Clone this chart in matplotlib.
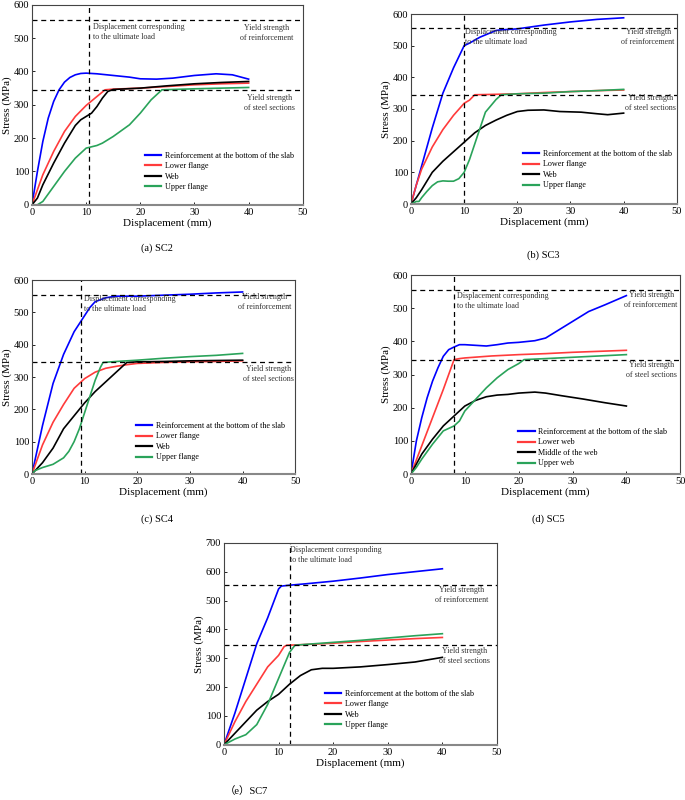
import matplotlib.pyplot as plt

plt.rcParams['font.family'] = ['Liberation Serif', 'Noto Sans CJK SC']

# ---- data (displacement mm, stress MPa) ----
# (a) SC2
a_blue_x = [0, 1, 2, 3, 4, 5, 6, 7, 8, 9, 10, 12, 15, 18, 20, 23, 26, 30, 34, 37, 40]
a_blue_y = [0, 100, 190, 260, 310, 345, 368, 382, 390, 394, 395, 393, 388, 383, 378, 377, 380, 388, 393, 390, 377]
a_red_x = [0, 2, 4, 6, 8, 10, 12, 13.5, 15, 20, 25, 30, 35, 40]
a_red_y = [0, 90, 160, 220, 265, 298, 325, 345, 347, 350, 355, 360, 363, 365]
a_black_x = [0, 1, 2, 4, 6, 8, 9, 10, 11, 12, 13, 14, 15, 20, 25, 30, 35, 40]
a_black_y = [0, 20, 60, 125, 185, 238, 255, 265, 275, 295, 320, 340, 346, 350, 357, 363, 367, 370]
a_green_x = [0, 1, 2, 4, 6, 8, 10, 12, 13, 15, 18, 20, 22, 24, 30, 35, 40]
a_green_y = [0, 0, 10, 55, 100, 140, 170, 178, 185, 205, 240, 275, 315, 345, 348, 350, 352]

# (b) SC3
b_blue_x = [0, 2, 4, 6, 8, 10, 11, 13, 16, 17, 20, 25, 30, 35, 40]
b_blue_y = [0, 120, 240, 350, 430, 500, 508, 527, 548, 550, 553, 565, 575, 583, 588]
b_red_x = [0, 1, 2, 4, 6, 8, 10, 11, 12, 15, 20, 25, 30, 35, 40]
b_red_y = [0, 60, 110, 180, 235, 280, 318, 328, 345, 346, 348, 352, 355, 358, 360]
b_black_x = [0, 1, 2, 4, 6, 8, 10, 12, 14, 16, 18, 20, 22, 25, 28, 32, 35, 37, 40]
b_black_y = [0, 20, 45, 100, 135, 165, 195, 225, 248, 265, 280, 292, 296, 297, 292, 290, 285, 282, 287]
b_green_x = [0, 1, 1.5, 2, 3, 4, 5, 6, 7, 8, 9, 10, 11, 12, 13, 14, 16, 17, 20, 25, 30, 35, 40]
b_green_y = [0, 8, 8, 20, 40, 58, 70, 73, 72, 72, 80, 100, 140, 190, 240, 290, 330, 345, 348, 350, 355, 358, 362]

# (c) SC4
c_blue_x = [0, 2, 4, 6, 8, 9, 10, 11, 12, 14, 16, 20, 25, 30, 35, 40]
c_blue_y = [0, 150, 280, 370, 440, 465, 490, 515, 533, 545, 550, 550, 553, 556, 560, 563]
c_red_x = [0, 2, 4, 6, 8, 10, 12, 14, 16, 18, 20, 25, 30, 35, 40]
c_red_y = [0, 90, 160, 215, 265, 295, 315, 327, 333, 338, 342, 345, 347, 348, 350]
c_black_x = [0, 2, 4, 6, 8, 10, 12, 14, 16, 17, 18, 20, 25, 30, 35, 40]
c_black_y = [0, 35, 80, 140, 180, 220, 255, 285, 315, 330, 345, 347, 348, 350, 351, 352]
c_green_x = [0, 0.5, 2, 4, 6, 7, 8, 9, 10, 11, 12, 13, 13.5, 16, 20, 25, 30, 35, 40]
c_green_y = [0, 10, 20, 30, 50, 70, 100, 140, 190, 240, 290, 330, 345, 348, 352, 358, 363, 367, 373]

# (d) SC5
d_blue_x = [0, 1, 2, 3, 4, 5, 6, 7, 8, 9, 10, 12, 14, 16, 18, 20, 23, 25, 28, 30, 33, 36, 40]
d_blue_y = [0, 100, 170, 230, 280, 320, 355, 375, 383, 390, 390, 388, 386, 390, 395, 397, 402, 410, 440, 460, 490, 510, 538]
d_red_x = [0, 2, 4, 6, 8, 9, 10, 15, 20, 25, 30, 35, 40]
d_red_y = [0, 85, 170, 255, 345, 348, 350, 356, 360, 363, 367, 370, 373]
d_black_x = [0, 1, 2, 4, 6, 8, 10, 12, 14, 16, 18, 20, 23, 25, 28, 32, 36, 40]
d_black_y = [0, 30, 60, 105, 145, 175, 205, 222, 233, 238, 240, 244, 247, 244, 236, 226, 215, 205]
d_green_x = [0, 1, 2, 4, 6, 8, 9, 10, 12, 14, 16, 18, 20, 21, 25, 30, 35, 40]
d_green_y = [0, 20, 45, 90, 130, 145, 160, 190, 225, 260, 290, 315, 333, 345, 348, 352, 356, 360]

# (e) SC7
e_blue_x = [0, 2, 4, 6, 8, 10, 10.5, 12, 15, 20, 25, 30, 35, 40]
e_blue_y = [0, 110, 230, 350, 440, 540, 550, 553, 558, 567, 578, 590, 600, 610]
e_red_x = [0, 2, 4, 6, 8, 10, 11, 11.5, 13, 20, 25, 30, 35, 40]
e_red_y = [0, 80, 150, 210, 270, 310, 340, 345, 346, 352, 358, 363, 368, 372]
e_black_x = [0, 2, 4, 6, 8, 10, 12, 14, 16, 18, 20, 25, 30, 35, 40]
e_black_y = [0, 40, 80, 120, 150, 175, 210, 240, 260, 265, 265, 270, 278, 287, 303]
e_green_x = [0, 2, 4, 6, 8, 10, 12, 13, 15, 20, 25, 30, 35, 40]
e_green_y = [0, 20, 35, 70, 140, 230, 320, 345, 348, 355, 362, 370, 378, 385]

flange_labels = ['Reinforcement at the bottom of the slab', 'Lower flange', 'Web', 'Upper flange']
web_labels = ['Reinforcement at the bottom of the slab', 'Lower web', 'Middle of the web', 'Upper web']
colors = ['#0000ff', '#ff3b3b', '#000000', '#2aa35a']

yield_reinf = 555
yield_steel = 345

fig = plt.figure(figsize=(6.85, 8), dpi=100)


def panel(rect, curves, labels, ymax, ult_x, caption, cap_xy, disp_xy, reinf_xy, steel_xy, leg_xy):
    ax = fig.add_axes(rect)
    for (x, y), c, lab in zip(curves, colors, labels):
        ax.plot(x, y, color=c, lw=1.2, label=lab)
    ax.axhline(yield_reinf, color='k', ls=(0, (4, 3)), lw=0.9)
    ax.axhline(yield_steel, color='k', ls=(0, (4, 3)), lw=0.9)
    ax.axvline(ult_x, color='k', ls=(0, (4, 3)), lw=0.9)
    ax.set_xlim(0, 50)
    ax.set_ylim(0, ymax)
    ax.set_xticks(range(0, 51, 10))
    ax.set_yticks(range(0, ymax + 1, 100))
    ax.tick_params(direction='in', length=2.5, width=0.6, labelsize=7.5, pad=2)
    for s in ax.spines.values():
        s.set_color('#444444')
        s.set_linewidth(0.8)
    ax.spines['bottom'].set_color('#888888')
    ax.spines['bottom'].set_linewidth(1.5)
    ax.set_xlabel('Displacement (mm)', fontsize=8, labelpad=1)
    ax.set_ylabel('Stress (MPa)', fontsize=8, labelpad=1)
    ax.text(disp_xy[0], disp_xy[1], 'Displacement corresponding\nto the ultimate load',
            fontsize=5.8, va='top', ha='left', color='#333333', linespacing=1.35)
    ax.text(reinf_xy[0], reinf_xy[1], 'Yield strength\nof reinforcement',
            fontsize=5.8, va='top', ha='center', color='#333333', linespacing=1.35)
    ax.text(steel_xy[0], steel_xy[1], 'Yield strength\nof steel sections',
            fontsize=5.8, va='top', ha='center', color='#333333', linespacing=1.35)
    leg = ax.legend(loc='upper left', bbox_to_anchor=leg_xy, frameon=False, fontsize=5.9,
                    handlelength=2.0, handletextpad=0.4, labelspacing=0.3,
                    borderaxespad=0, borderpad=0)
    for h in leg.legend_handles:
        h.set_linewidth(1.6)
    fig.text(cap_xy[0], cap_xy[1], caption, fontsize=7.5, ha='center', va='center')
    return ax


panel([0.0467, 0.744, 0.3953, 0.25],
      [(a_blue_x, a_blue_y), (a_red_x, a_red_y), (a_black_x, a_black_y), (a_green_x, a_green_y)],
      flange_labels, 600, 10.5, '(a) SC2', (0.229, 0.690),
      (11.2, 545), (43.4, 543), (43.8, 333), (0.417, 0.265))

panel([0.600, 0.745, 0.388, 0.2375],
      [(b_blue_x, b_blue_y), (b_red_x, b_red_y), (b_black_x, b_black_y), (b_green_x, b_green_y)],
      flange_labels, 600, 10, '(b) SC3', (0.793, 0.681),
      (10.1, 556), (44.6, 556), (45, 348), (0.421, 0.284))

panel([0.0467, 0.4075, 0.3843, 0.2425],
      [(c_blue_x, c_blue_y), (c_red_x, c_red_y), (c_black_x, c_black_y), (c_green_x, c_green_y)],
      flange_labels, 600, 9.3, '(c) SC4', (0.229, 0.351),
      (9.8, 554), (44.2, 559), (45, 336), (0.395, 0.268))

panel([0.600, 0.4075, 0.393, 0.2487],
      [(d_blue_x, d_blue_y), (d_red_x, d_red_y), (d_black_x, d_black_y), (d_green_x, d_green_y)],
      web_labels, 600, 8, '(d) SC5', (0.80, 0.351),
      (8.6, 548), (44.6, 553), (44.6, 342), (0.398, 0.231))

panel([0.327, 0.069, 0.3985, 0.2525],
      [(e_blue_x, e_blue_y), (e_red_x, e_red_y), (e_black_x, e_black_y), (e_green_x, e_green_y)],
      flange_labels, 700, 12, '（e）SC7', (0.36, 0.011),
      (12.05, 688), (43.6, 551), (44, 339), (0.37, 0.272))

fig.savefig('out.png', dpi=100)
